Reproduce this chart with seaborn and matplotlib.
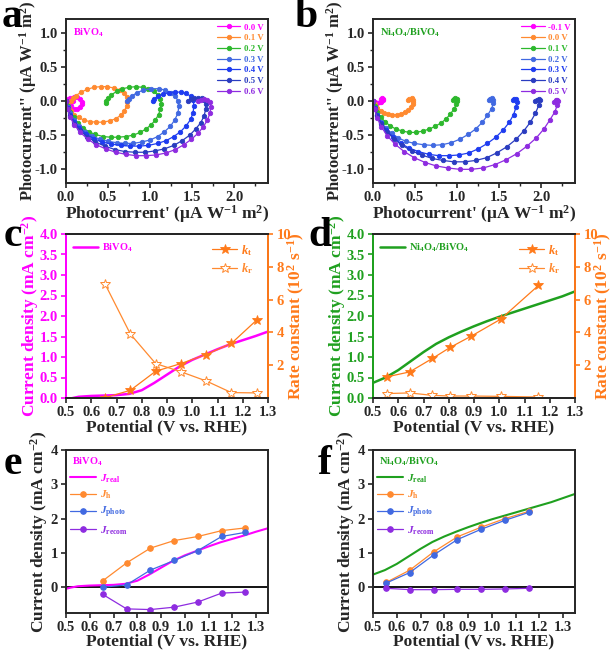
import numpy as np
import pandas as pd
import matplotlib
matplotlib.use('Agg')
import matplotlib.pyplot as plt
import seaborn as sns
from matplotlib.ticker import MultipleLocator, FormatStrFormatter

# ---------------- data ----------------
# panel a (BiVO4) IMPS curves
a_labels = ['0.0 V', '0.1 V', '0.2 V', '0.3 V', '0.4 V', '0.5 V', '0.6 V']
a_x00 = [0.0, 0.02, 0.05, 0.09, 0.13, 0.17, 0.19, 0.19, 0.17, 0.13, 0.09, 0.06, 0.05, 0.06, 0.08]
a_y00 = [0.0, 0.03, 0.05, 0.06, 0.06, 0.03, -0.01, -0.05, -0.09, -0.11, -0.11, -0.08, -0.05, -0.02, 0.0]
a_x01 = [0.0, 0.01, 0.03, 0.06, 0.1, 0.15, 0.21, 0.28, 0.36, 0.44, 0.52, 0.59, 0.65, 0.69, 0.72, 0.73, 0.72, 0.69, 0.64, 0.57, 0.49, 0.41, 0.33, 0.25, 0.18, 0.12, 0.08, 0.06]
a_y01 = [0.0, -0.05, -0.1, -0.15, -0.2, -0.24, -0.28, -0.3, -0.31, -0.31, -0.29, -0.26, -0.21, -0.15, -0.08, -0.01, 0.06, 0.12, 0.16, 0.19, 0.21, 0.21, 0.2, 0.17, 0.13, 0.08, 0.04, 0.0]
a_x02 = [0.0, 0.02, 0.05, 0.09, 0.14, 0.2, 0.27, 0.35, 0.44, 0.53, 0.62, 0.71, 0.8, 0.88, 0.95, 1.01, 1.06, 1.1, 1.12, 1.13, 1.12, 1.09, 1.04, 0.98, 0.91, 0.83, 0.75, 0.67, 0.6, 0.54, 0.5, 0.48, 0.48]
a_y02 = [0.0, -0.08, -0.16, -0.24, -0.32, -0.39, -0.45, -0.49, -0.52, -0.53, -0.53, -0.52, -0.5, -0.46, -0.41, -0.35, -0.28, -0.2, -0.12, -0.04, 0.03, 0.09, 0.14, 0.18, 0.2, 0.21, 0.2, 0.18, 0.14, 0.09, 0.04, 0.0, -0.03]
a_x03 = [0.0, 0.02, 0.05, 0.1, 0.16, 0.23, 0.31, 0.4, 0.5, 0.6, 0.7, 0.8, 0.9, 1.0, 1.09, 1.17, 1.24, 1.29, 1.33, 1.34, 1.33, 1.3, 1.25, 1.18, 1.1, 1.01, 0.92, 0.84, 0.78, 0.75, 0.73]
a_y03 = [0.0, -0.09, -0.18, -0.28, -0.37, -0.45, -0.51, -0.56, -0.59, -0.61, -0.62, -0.62, -0.6, -0.57, -0.52, -0.45, -0.37, -0.28, -0.18, -0.08, 0.0, 0.07, 0.12, 0.16, 0.18, 0.18, 0.16, 0.12, 0.07, 0.03, 0.0]
a_x04 = [0.0, 0.02, 0.05, 0.1, 0.16, 0.24, 0.33, 0.43, 0.54, 0.65, 0.76, 0.87, 0.98, 1.09, 1.19, 1.28, 1.36, 1.43, 1.48, 1.51, 1.52, 1.51, 1.48, 1.43, 1.37, 1.3, 1.22, 1.15, 1.09, 1.05, 1.03]
a_y04 = [0.0, -0.1, -0.2, -0.3, -0.4, -0.48, -0.55, -0.6, -0.63, -0.65, -0.66, -0.66, -0.65, -0.62, -0.58, -0.52, -0.45, -0.36, -0.27, -0.17, -0.07, 0.01, 0.07, 0.11, 0.13, 0.13, 0.12, 0.1, 0.07, 0.03, 0.0]
a_x05 = [0.0, 0.02, 0.05, 0.1, 0.17, 0.25, 0.35, 0.46, 0.58, 0.7, 0.82, 0.94, 1.06, 1.17, 1.28, 1.38, 1.47, 1.54, 1.6, 1.64, 1.66, 1.66, 1.64, 1.61, 1.57, 1.52, 1.48, 1.45]
a_y05 = [0.0, -0.11, -0.22, -0.33, -0.43, -0.52, -0.6, -0.66, -0.71, -0.74, -0.75, -0.75, -0.73, -0.7, -0.65, -0.58, -0.5, -0.41, -0.32, -0.22, -0.12, -0.04, 0.01, 0.04, 0.05, 0.05, 0.03, 0.0]
a_x06 = [0.0, 0.02, 0.05, 0.1, 0.17, 0.26, 0.36, 0.47, 0.59, 0.71, 0.83, 0.95, 1.07, 1.19, 1.3, 1.4, 1.49, 1.57, 1.63, 1.68, 1.71, 1.72, 1.71, 1.68, 1.64, 1.6, 1.57]
a_y06 = [0.0, -0.12, -0.24, -0.35, -0.46, -0.56, -0.64, -0.7, -0.75, -0.78, -0.8, -0.8, -0.79, -0.76, -0.71, -0.64, -0.56, -0.47, -0.38, -0.28, -0.18, -0.09, -0.02, 0.02, 0.03, 0.02, 0.0]

# panel b (Ni4O4/BiVO4) IMPS curves
b_labels = ['-0.1 V', '0.0 V', '0.1 V', '0.2 V', '0.3 V', '0.4 V', '0.5 V']
b_x00 = [0.0, 0.02, 0.05, 0.08, 0.1, 0.12, 0.12, 0.11, 0.09]
b_y00 = [0.0, -0.02, -0.03, -0.02, -0.01, 0.01, 0.03, 0.04, 0.03]
b_x01 = [0.0, 0.02, 0.05, 0.09, 0.13, 0.18, 0.23, 0.28, 0.33, 0.38, 0.42, 0.45, 0.47, 0.48, 0.48, 0.46, 0.43, 0.42]
b_y01 = [0.0, -0.05, -0.1, -0.14, -0.17, -0.19, -0.2, -0.2, -0.19, -0.16, -0.13, -0.09, -0.05, -0.01, 0.02, 0.04, 0.03, 0.01]
b_x02 = [0.0, 0.02, 0.05, 0.09, 0.14, 0.2, 0.27, 0.35, 0.43, 0.51, 0.59, 0.67, 0.74, 0.81, 0.87, 0.92, 0.96, 0.99, 1.0, 1.0, 0.98, 0.96, 0.95]
b_y02 = [0.0, -0.08, -0.16, -0.23, -0.3, -0.36, -0.41, -0.44, -0.46, -0.46, -0.44, -0.41, -0.37, -0.32, -0.26, -0.19, -0.12, -0.05, 0.0, 0.03, 0.04, 0.03, 0.01]
b_x03 = [0.0, 0.02, 0.05, 0.09, 0.15, 0.22, 0.3, 0.39, 0.49, 0.6, 0.71, 0.82, 0.93, 1.03, 1.13, 1.22, 1.3, 1.36, 1.41, 1.43, 1.43, 1.41, 1.39, 1.38]
b_y03 = [0.0, -0.1, -0.2, -0.3, -0.39, -0.47, -0.54, -0.59, -0.62, -0.64, -0.65, -0.64, -0.61, -0.56, -0.49, -0.41, -0.31, -0.21, -0.11, -0.03, 0.02, 0.04, 0.03, 0.01]
b_x04 = [0.0, 0.02, 0.05, 0.1, 0.16, 0.24, 0.33, 0.43, 0.54, 0.66, 0.78, 0.9, 1.02, 1.14, 1.25, 1.36, 1.46, 1.55, 1.62, 1.67, 1.7, 1.71, 1.7, 1.68, 1.66]
b_y04 = [0.0, -0.1, -0.21, -0.32, -0.43, -0.53, -0.62, -0.69, -0.74, -0.78, -0.8, -0.8, -0.79, -0.76, -0.7, -0.62, -0.53, -0.42, -0.31, -0.2, -0.09, -0.01, 0.03, 0.03, 0.01]
b_x05 = [0.0, 0.02, 0.05, 0.1, 0.17, 0.25, 0.35, 0.46, 0.58, 0.7, 0.83, 0.96, 1.09, 1.22, 1.35, 1.47, 1.59, 1.7, 1.79, 1.87, 1.93, 1.97, 1.98, 1.97, 1.95, 1.93]
b_y05 = [0.0, -0.11, -0.22, -0.34, -0.45, -0.56, -0.65, -0.73, -0.79, -0.84, -0.87, -0.89, -0.89, -0.87, -0.83, -0.76, -0.67, -0.56, -0.44, -0.31, -0.18, -0.06, 0.01, 0.03, 0.02, 0.0]
b_x06 = [0.0, 0.02, 0.05, 0.1, 0.17, 0.26, 0.37, 0.49, 0.62, 0.75, 0.89, 1.03, 1.17, 1.31, 1.45, 1.58, 1.71, 1.83, 1.94, 2.03, 2.1, 2.16, 2.19, 2.2, 2.19, 2.17, 2.15]
b_y06 = [0.0, -0.12, -0.25, -0.38, -0.51, -0.63, -0.74, -0.83, -0.9, -0.95, -0.98, -1.0, -1.0, -0.98, -0.93, -0.86, -0.77, -0.66, -0.54, -0.41, -0.28, -0.16, -0.06, 0.0, 0.02, 0.01, -0.01]

# J-V curves
jv_bi_x = [0.48, 0.52, 0.55, 0.6, 0.65, 0.7, 0.75, 0.8, 0.85, 0.9, 0.95, 1.0, 1.05, 1.1, 1.15, 1.2, 1.25, 1.3, 1.35]
jv_bi_y = [-0.08, -0.01, 0.03, 0.05, 0.06, 0.07, 0.1, 0.19, 0.37, 0.57, 0.77, 0.93, 1.06, 1.19, 1.31, 1.41, 1.51, 1.62, 1.72]
jv_ni_x = [0.5, 0.55, 0.6, 0.65, 0.7, 0.75, 0.8, 0.85, 0.9, 0.95, 1.0, 1.05, 1.1, 1.15, 1.2, 1.25, 1.3, 1.35]
jv_ni_y = [0.37, 0.5, 0.68, 0.9, 1.12, 1.32, 1.48, 1.62, 1.75, 1.87, 1.98, 2.08, 2.18, 2.28, 2.38, 2.48, 2.6, 2.72]

# rate constants (10^2 s^-1)
c_pot = [0.655, 0.755, 0.855, 0.955, 1.055, 1.155, 1.255]
c_kt = [0.02, 0.47, 1.63, 2.1, 2.65, 3.33, 4.75]
c_kr = [6.94, 3.9, 2.1, 1.6, 1.04, 0.33, 0.31]
d_pot = [0.555, 0.645, 0.735, 0.805, 0.89, 1.005, 1.155]
d_kt = [1.29, 1.59, 2.41, 3.08, 3.78, 4.8, 6.86]
d_kr = [0.27, 0.31, 0.16, 0.12, 0.12, 0.1, 0.06]

# current components
e_pot = [0.655, 0.755, 0.855, 0.955, 1.055, 1.155, 1.255]
e_jh = [0.19, 0.71, 1.14, 1.36, 1.48, 1.65, 1.73]
e_jphoto = [0.0, 0.07, 0.5, 0.78, 1.07, 1.48, 1.6]
e_jrecom = [-0.21, -0.63, -0.65, -0.58, -0.43, -0.17, -0.14]
f_pot = [0.555, 0.655, 0.755, 0.855, 0.955, 1.055, 1.155]
f_jh = [0.14, 0.5, 1.03, 1.47, 1.75, 2.0, 2.21]
f_jphoto = [0.12, 0.43, 0.94, 1.39, 1.69, 1.95, 2.18]
f_jrecom = [-0.03, -0.07, -0.07, -0.06, -0.06, -0.05, -0.03]

# ---------------- style ----------------
sns.set_theme(style='ticks')
plt.rcParams['font.family'] = ['Liberation Serif', 'DejaVu Serif']
plt.rcParams['font.weight'] = 'bold'
plt.rcParams['axes.labelweight'] = 'bold'
plt.rcParams['mathtext.fontset'] = 'custom'
plt.rcParams['mathtext.rm'] = 'Liberation Serif:bold'
plt.rcParams['mathtext.it'] = 'Liberation Serif:italic:bold'
plt.rcParams['mathtext.bf'] = 'Liberation Serif:bold'
plt.rcParams['mathtext.default'] = 'rm'
plt.rcParams['axes.linewidth'] = 1.4

MAG = '#FF00FF'
ORA = '#FF8A30'
ORA2 = '#FF7A1A'
GRN = '#2DB82D'
GRN2 = '#1FA01F'
BL3 = '#4169E1'
BL4 = '#1E3CF0'
BL5 = '#2A3CC0'
PUR = '#8E2CE0'
cols = [MAG, ORA, GRN, BL3, BL4, BL5, PUR]

fig = plt.figure(figsize=(6.14, 6.52), dpi=100)
W, H = 614, 652

def add_ax(l, t, r, b):
    return fig.add_axes([l / W, 1 - b / H, (r - l) / W, (b - t) / H])

ax_a = add_ax(66, 19, 268, 183)
ax_b = add_ax(373, 19, 575, 183)
ax_c = add_ax(66, 234, 268, 398)
ax_d = add_ax(373, 234, 575, 398)
ax_e = add_ax(66, 450, 268, 613)
ax_f = add_ax(373, 450, 575, 613)

TICK = 10.5
LAB = 12.5

def line(ax, x, y, color, label=None, **kw):
    df = pd.DataFrame({'x': x, 'y': y})
    sns.lineplot(data=df, x='x', y='y', sort=False, estimator=None, color=color,
                 ax=ax, label=label, legend=False, **kw)

def style_ticks(ax):
    ax.tick_params(direction='out', length=3.5, width=1.2, labelsize=TICK, pad=2.5)
    ax.tick_params(which='minor', direction='out', length=2, width=1.0)

def color_legend(leg):
    for t, h in zip(leg.get_texts(), leg.get_lines()):
        t.set_color(h.get_color())
        t.set_fontweight('bold')

# ---------------- panels a, b ----------------
a_xs = [a_x00, a_x01, a_x02, a_x03, a_x04, a_x05, a_x06]
a_ys = [a_y00, a_y01, a_y02, a_y03, a_y04, a_y05, a_y06]
b_xs = [b_x00, b_x01, b_x02, b_x03, b_x04, b_x05, b_x06]
b_ys = [b_y00, b_y01, b_y02, b_y03, b_y04, b_y05, b_y06]

for ax, xs, ys, labels, tag, tcol in [(ax_a, a_xs, a_ys, a_labels, r'BiVO$_4$', MAG),
                                      (ax_b, b_xs, b_ys, b_labels, r'Ni$_4$O$_4$/BiVO$_4$', GRN2)]:
    for x, y, c, lb in zip(xs, ys, cols, labels):
        line(ax, x, y, c, label=lb, lw=0.9, marker='o', markersize=3.2,
             markeredgewidth=0.6, markeredgecolor=c, markerfacecolor=c)
    ax.set_xlim(0, 2.4)
    ax.set_ylim(-1.2, 1.2)
    ax.set_xticks([0.0, 0.5, 1.0, 1.5, 2.0])
    ax.set_yticks([-1.0, -0.5, 0.0, 0.5, 1.0])
    ax.xaxis.set_minor_locator(MultipleLocator(0.25))
    ax.yaxis.set_minor_locator(MultipleLocator(0.25))
    ax.xaxis.set_major_formatter(FormatStrFormatter('%.1f'))
    ax.yaxis.set_major_formatter(FormatStrFormatter('%.1f'))
    ax.set_xlabel(r"Photocurrent' ($\mu$A W$^{-1}$ m$^{2}$)", fontsize=LAB, fontweight='bold')
    ax.set_ylabel(r"Photocurrent'' ($\mu$A W$^{-1}$ m$^{2}$)", fontsize=12, fontweight='bold')
    ax.xaxis.set_label_coords(0.5, -0.125)
    ax.yaxis.set_label_coords(-0.135, 0.5)
    style_ticks(ax)
    ax.text(0.08, 1.0, tag, color=tcol, fontsize=7.5, fontweight='bold', va='center', ha='left')
    leg = ax.legend(loc='upper right', bbox_to_anchor=(1.0, 1.0), frameon=False,
                    fontsize=6.3, handlelength=2.7, labelspacing=0.3, borderaxespad=0.2,
                    handletextpad=0.4, borderpad=0.3)
    color_legend(leg)

# ---------------- panels c, d ----------------
for ax, jx, jy, jcol, jlab, px, kt, kr in [
        (ax_c, jv_bi_x, jv_bi_y, MAG, r'BiVO$_4$', c_pot, c_kt, c_kr),
        (ax_d, jv_ni_x, jv_ni_y, GRN2, r'Ni$_4$O$_4$/BiVO$_4$', d_pot, d_kt, d_kr)]:
    line(ax, jx, jy, jcol, label=jlab, lw=1.8)
    ax.set_xlim(0.5, 1.3)
    ax.set_ylim(0, 4.0)
    ax.set_xticks(np.round(np.arange(0.5, 1.31, 0.1), 1))
    ax.set_yticks(np.arange(0, 4.01, 0.5))
    ax.xaxis.set_major_formatter(FormatStrFormatter('%.1f'))
    ax.yaxis.set_major_formatter(FormatStrFormatter('%.1f'))
    ax.set_xlabel('Potential (V vs. RHE)', fontsize=LAB, fontweight='bold')
    ax.set_ylabel(r'Current density (mA cm$^{-2}$)', fontsize=LAB, fontweight='bold', color=jcol)
    ax.xaxis.set_label_coords(0.5, -0.13)
    ax.yaxis.set_label_coords(-0.125, 0.5)
    style_ticks(ax)
    ax.tick_params(axis='y', colors=jcol)
    ax.spines['left'].set_color(jcol)
    leg = ax.legend(loc='upper left', bbox_to_anchor=(0.0, 1.0), frameon=False,
                    fontsize=7.5, handlelength=2.4, borderaxespad=0.3, handletextpad=0.4)
    color_legend(leg)

    ax2 = ax.twinx()
    line(ax2, px, kt, ORA2, label=r'$\mathit{k}_{\rm t}$', lw=0.9, marker='*', markersize=7,
         markerfacecolor=ORA2, markeredgecolor=ORA2, markeredgewidth=0.6)
    line(ax2, px, kr, ORA, label=r'$\mathit{k}_{\rm r}$', lw=0.9, marker='*', markersize=7,
         markerfacecolor='white', markeredgecolor=ORA, markeredgewidth=0.7)
    ax2.set_ylim(0, 10)
    ax2.set_yticks([2, 4, 6, 8, 10])
    ax2.set_ylabel(r'Rate constant (10$^{2}$ s$^{-1}$)', fontsize=LAB, fontweight='bold', color=ORA2)
    ax2.yaxis.set_label_coords(1.088, 0.5)
    style_ticks(ax2)
    ax2.tick_params(axis='y', colors=ORA2)
    ax2.spines['right'].set_color(ORA2)
    ax2.spines['left'].set_color(jcol)
    ax2.set_xlabel('')
    leg2 = ax2.legend(loc='upper right', bbox_to_anchor=(0.97, 1.0), frameon=False,
                      fontsize=9, handlelength=2.0, labelspacing=0.3, borderaxespad=0.3,
                      handletextpad=0.3)
    color_legend(leg2)

# ---------------- panels e, f ----------------
for ax, jx, jy, jcol, tag, px, jh, jp, jr in [
        (ax_e, jv_bi_x, jv_bi_y, MAG, r'BiVO$_4$', e_pot, e_jh, e_jphoto, e_jrecom),
        (ax_f, jv_ni_x, jv_ni_y, GRN2, r'Ni$_4$O$_4$/BiVO$_4$', f_pot, f_jh, f_jphoto, f_jrecom)]:
    ax.axhline(0, color='black', lw=1.3, zorder=1)
    line(ax, jx, jy, jcol, label=r'$\mathit{J}_{\rm real}$', lw=1.5)
    line(ax, px, jh, ORA, label=r'$\mathit{J}_{\rm h}$', lw=0.9, marker='o', markersize=4,
         markerfacecolor=ORA, markeredgecolor=ORA)
    line(ax, px, jp, BL3, label=r'$\mathit{J}_{\rm photo}$', lw=0.9, marker='o', markersize=4,
         markerfacecolor=BL3, markeredgecolor=BL3)
    line(ax, px, jr, PUR, label=r'$\mathit{J}_{\rm recom}$', lw=0.9, marker='o', markersize=4,
         markerfacecolor=PUR, markeredgecolor=PUR)
    ax.set_xlim(0.5, 1.35)
    ax.set_ylim(-0.75, 4.0)
    ax.set_xticks(np.round(np.arange(0.5, 1.31, 0.1), 1))
    ax.set_yticks([0, 1, 2, 3, 4])
    ax.xaxis.set_major_formatter(FormatStrFormatter('%.1f'))
    ax.set_xlabel('Potential (V vs. RHE)', fontsize=LAB, fontweight='bold')
    ax.set_ylabel(r'Current density (mA cm$^{-2}$)', fontsize=LAB, fontweight='bold')
    ax.xaxis.set_label_coords(0.5, -0.125)
    ax.yaxis.set_label_coords(-0.08, 0.5)
    style_ticks(ax)
    ax.text(0.03, 0.93, tag, transform=ax.transAxes, color=jcol, fontsize=7.5,
            fontweight='bold', va='center', ha='left')
    leg = ax.legend(loc='upper left', bbox_to_anchor=(0.0, 0.89), frameon=False,
                    fontsize=8, handlelength=2.3, labelspacing=0.35, borderaxespad=0.2,
                    handletextpad=0.4, borderpad=0.2)
    color_legend(leg)

# ---------------- panel letters ----------------
for txt, x, y in [('a', 2, 27), ('b', 294, 27), ('c', 4, 246), ('d', 308, 246),
                  ('e', 4, 474), ('f', 318, 474)]:
    fig.text(x / W, 1 - y / H, txt, fontsize=30, fontweight='bold', ha='left',
             va='baseline', color='black')

fig.savefig('out.png', dpi=100)
